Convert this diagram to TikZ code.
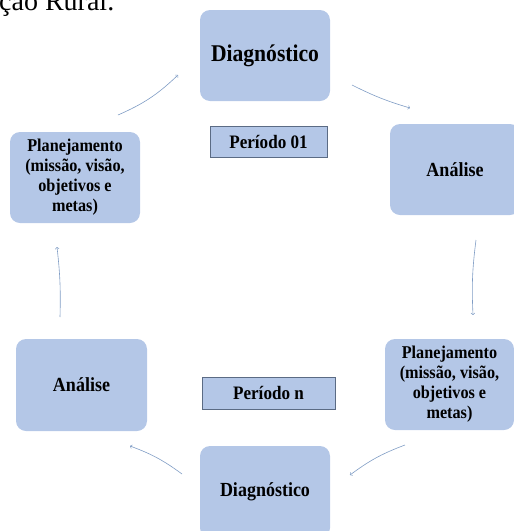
\documentclass[tikz,border=0pt]{standalone}
\usepackage{fontspec}
\setmainfont{Liberation Serif}
\newfontfamily\boxfont[FakeStretch=0.9]{Liberation Serif}
\usetikzlibrary{arrows,shapes}
\definecolor{boxblue}{HTML}{B4C7E7}
\definecolor{lineblue}{HTML}{7F9CC4}
\definecolor{frameblue}{HTML}{5B6B84}
\tikzstyle{stage}=[rounded corners=10pt, fill=boxblue
,minimum width=130pt
,minimum height=91pt
,inner sep=0pt, align=center
,font=\boxfont\bfseries\fontsize{20}{22}\selectfont
]
\tikzstyle{period} = [rectangle, fill=boxblue, draw=frameblue, line width=0.6pt
,inner sep=0pt, font=\boxfont\bfseries\fontsize{19}{21}\selectfont]
\tikzstyle{plan text} = [font=\boxfont\bfseries\fontsize{18}{20}\selectfont]
\tikzstyle{flow} = [draw=lineblue, line width=0.6pt, -to]

\begin{document}
\begin{tikzpicture}[x=1pt,y=-1pt]
    \useasboundingbox (0,0) rectangle (514,531);
    \clip (0,0) rectangle (514,531);
    % text of the page above the picture
    \node[anchor=base west, inner sep=0pt, font=\fontsize{28}{30}\selectfont] (page) at (-1,10) {ção Rural.};
    % First the stages of period 01
    \node[stage, font=\boxfont\bfseries\fontsize{24}{26}\selectfont] (diag1) at (265,55.5) {Diagnóstico};
    \node[stage] (anal1) at (455,169.5) {Análise};
    \node[stage, plan text] (plan1) at (75,177.5) {Planejamento\\(missão, visão,\\objetivos e\\metas)};
    % then the stages of period n
    \node[stage, minimum width=131pt, minimum height=92pt] (analN) at (81.5,385) {Análise};
    \node[stage, plan text, minimum width=129pt] (planN) at (449.5,384.5) {Planejamento\\(missão, visão,\\objetivos e\\metas)};
    \node[stage, minimum height=92pt] (diagN) at (265,492) {Diagnóstico};
    % the two periods
    \node[period, minimum width=117pt, minimum height=31pt] (per1) at (268.5,141.5) {Período 01};
    \node[period, minimum width=133pt, minimum height=32pt] (perN) at (268.5,393) {Período n};
    % ends of the arrows
    \coordinate (p1a) at (118,115);  \coordinate (d1a) at (178,75);
    \coordinate (d1b) at (352,85);   \coordinate (a1a) at (410,108);
    \coordinate (a1b) at (476,240);  \coordinate (pNa) at (473,315);
    \coordinate (pNb) at (405,445);  \coordinate (dNa) at (350,475);
    \coordinate (dNb) at (182,474);  \coordinate (aNa) at (130,446);
    \coordinate (aNb) at (60,317);   \coordinate (p1b) at (57,247);
    % Connect the stages with arrows
    \draw[flow] (p1a) to[bend right=10] (d1a);
    \draw[flow] (d1b) to[bend right=5] (a1a);
    \draw[flow] (a1b) to[bend right=5] (pNa);
    \draw[flow] (pNb) to[bend right=8] (dNa);
    \draw[flow] (dNb) to[bend right=8] (aNa);
    \draw[flow] (aNb) to[bend right=4] (p1b);
\end{tikzpicture}
\end{document}
